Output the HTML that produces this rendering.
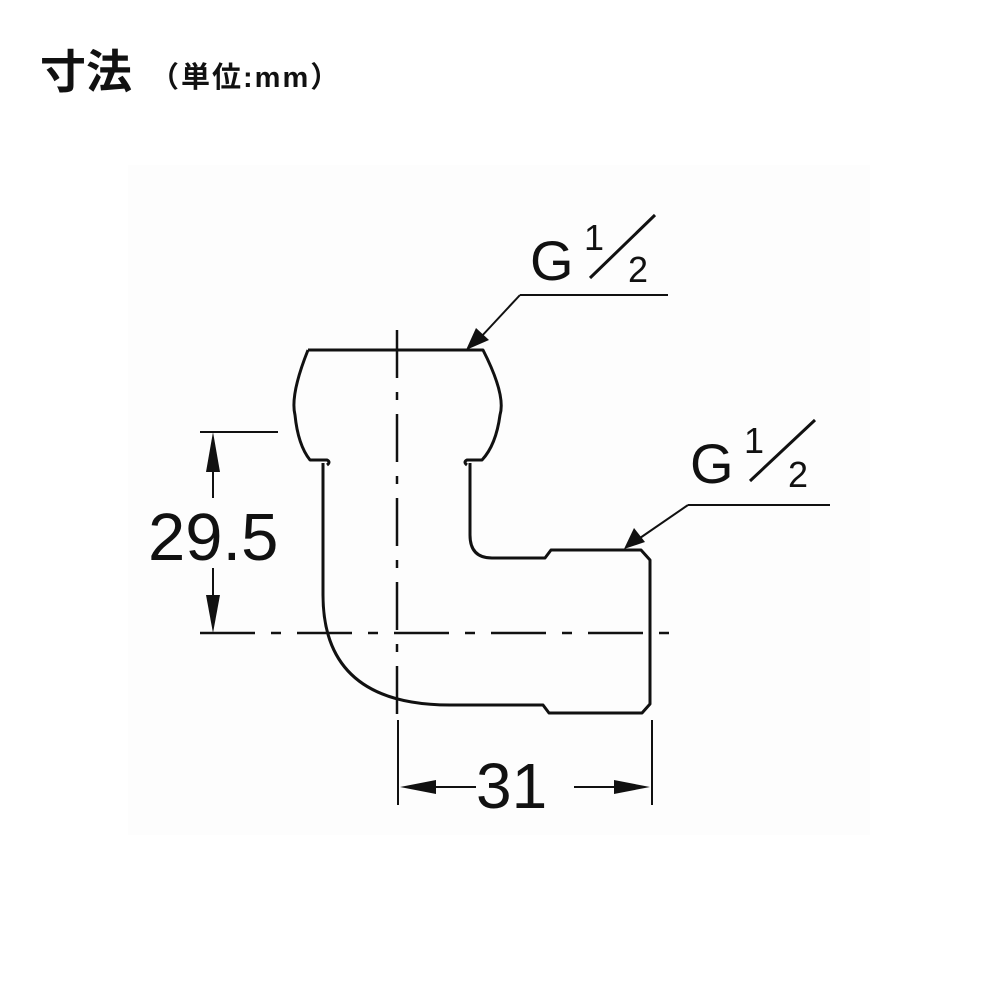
<!DOCTYPE html>
<html><head><meta charset="utf-8"><style>
html,body{margin:0;padding:0;background:#fff;}
body{width:1000px;height:1000px;position:relative;overflow:hidden;}
</style></head><body>
<svg width="1000" height="1000" viewBox="0 0 1000 1000" xmlns="http://www.w3.org/2000/svg">
<rect x="128" y="165" width="742" height="670" fill="#fdfdfd"/>
<text x="40" y="88" font-family="Liberation Sans, Noto Sans CJK JP, sans-serif" font-size="46" font-weight="bold" fill="#111">寸法</text>
<text x="150" y="87" font-family="Liberation Sans, Noto Sans CJK JP, sans-serif" font-size="29" font-weight="bold" letter-spacing="2" fill="#111">（単位:mm）</text>
<g fill="none" stroke="#111" stroke-width="3" stroke-linejoin="round">
<path d="M308,350 L483,350 Q506,395 500,415 Q496,445 482,460 L467,460 Q463,462 467,465"/>
<path d="M308,350 Q290,395 295,415 Q298,445 310,460 L327,460 Q331,462 327,465"/>
<path d="M323,463 L323,595 Q323,705 450,705 L543,705 L549,713 L642,713 L650,704 L650,560 L641,550 L551,550 L545,558 L492,558 Q470,558 470,535 L470,463"/>
</g>
<g stroke="#111" stroke-width="2.5" fill="none">
<line x1="397" y1="330" x2="397" y2="715" stroke-dasharray="48,14,8,14"/>
<line x1="200" y1="633" x2="680" y2="633" stroke-dasharray="55,16,10,16"/>
</g>
<g stroke="#111" stroke-width="2" fill="none">
<line x1="200" y1="432" x2="278" y2="432"/>
<line x1="213" y1="470" x2="213" y2="498"/>
<line x1="213" y1="568" x2="213" y2="600"/>
<line x1="398" y1="720" x2="398" y2="805"/>
<line x1="652" y1="720" x2="652" y2="805"/>
<line x1="420" y1="787" x2="476" y2="787"/>
<line x1="574" y1="787" x2="632" y2="787"/>
<polyline points="520,295 668,295"/>
<line x1="520" y1="295" x2="480" y2="338"/>
<polyline points="688,505 830,505"/>
<line x1="688" y1="505" x2="640" y2="538"/>
</g>
<g fill="#111">
<polygon points="213,432 206,472 220,472"/>
<polygon points="213,633 206,595 220,595"/>
<polygon points="400,787 436,780 436,794"/>
<polygon points="650,787 614,780 614,794"/>
<polygon points="466,350 476,328 489,340"/>
<polygon points="624,549 634,528 645,542"/>
</g>
<g font-family="Liberation Sans, sans-serif" fill="#111">
<text x="148" y="560" font-size="67">29.5</text>
<text x="476" y="808" font-size="64">31</text>
<text x="530" y="280" font-size="56">G</text>
<text x="584" y="250" font-size="36">1</text>
<line x1="590" y1="278" x2="655" y2="215" stroke="#111" stroke-width="3"/>
<text x="628" y="282" font-size="36">2</text>
<text x="690" y="483" font-size="56">G</text>
<text x="744" y="453" font-size="36">1</text>
<line x1="750" y1="481" x2="815" y2="420" stroke="#111" stroke-width="3"/>
<text x="788" y="487" font-size="36">2</text>
</g>
</svg>
</body></html>
